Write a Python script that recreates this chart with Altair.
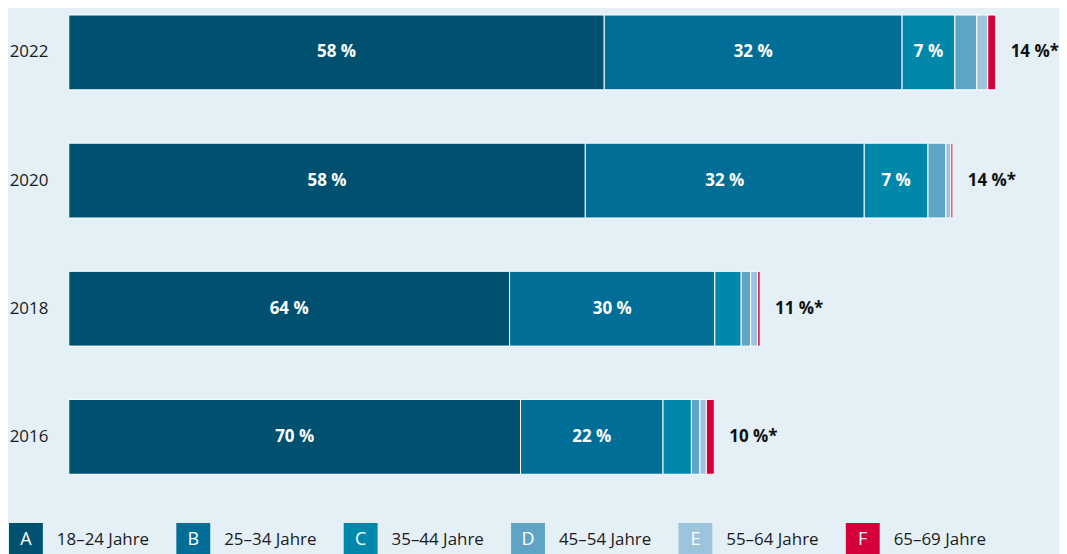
import altair as alt
import pandas as pd

# ---- data ----
years = ["2022", "2020", "2018", "2016"]
groups = ["A", "B", "C", "D", "E", "F"]
group_labels = ["18–24 Jahre", "25–34 Jahre", "35–44 Jahre", "45–54 Jahre", "55–64 Jahre", "65–69 Jahre"]
colors = ["#005170", "#006e97", "#0088aa", "#5ea4c5", "#9cc4dd", "#d3003b"]

# segment lengths (relative units, same scale for all years)
seg_2022 = [537.5, 299.0, 53.0, 22.0, 11.0, 8.0]
seg_2020 = [518.5, 280.0, 64.0, 18.0, 5.0, 2.0]
seg_2018 = [442.5, 206.0, 26.5, 9.5, 7.0, 2.5]
seg_2016 = [453.5, 143.0, 28.5, 8.5, 6.5, 8.0]

lab_2022 = ["58 %", "32 %", "7 %", "", "", ""]
lab_2020 = ["58 %", "32 %", "7 %", "", "", ""]
lab_2018 = ["64 %", "30 %", "", "", "", ""]
lab_2016 = ["70 %", "22 %", "", "", "", ""]

total_labels = ["14 %*", "14 %*", "11 %*", "10 %*"]

FONT = "Open Sans"

# ---- build tables ----
rows = []
totals = []
for yr, segs, labs, tl in zip(years,
                               [seg_2022, seg_2020, seg_2018, seg_2016],
                               [lab_2022, lab_2020, lab_2018, lab_2016],
                               total_labels):
    start = 0.0
    for g, v, lb in zip(groups, segs, labs):
        rows.append({"year": yr, "group": g, "start": start, "end": start + v,
                     "mid": start + v / 2, "label": lb})
        start += v
    totals.append({"year": yr, "total": start, "label": tl})

df = pd.DataFrame(rows)
df_tot = pd.DataFrame(totals)
df_leg = pd.DataFrame({"group": groups, "label": group_labels})

xscale = alt.Scale(domain=[0, 990], nice=False, zero=True)
yenc = alt.Y("year:N", sort=years,
             scale=alt.Scale(paddingInner=0.4163, paddingOuter=0.0467),
             axis=alt.Axis(title=None, domain=False, ticks=False, grid=False,
                           labelPadding=21, labelFontSize=17, labelFont=FONT,
                           labelColor="#1a1a1a", minExtent=61, maxExtent=61))

bars = alt.Chart(df).mark_rect(stroke="white", strokeWidth=1).encode(
    y=yenc,
    x=alt.X("start:Q", scale=xscale, axis=None),
    x2="end:Q",
    color=alt.Color("group:N", scale=alt.Scale(domain=groups, range=colors), legend=None),
)

inner = alt.Chart(df).mark_text(color="white", fontSize=17, fontWeight="bold",
                                font=FONT, baseline="middle").encode(
    y=alt.Y("year:N", sort=years),
    x=alt.X("mid:Q", scale=xscale),
    text="label:N",
)

tot = alt.Chart(df_tot).mark_text(color="#111111", fontSize=17, fontWeight="bold",
                                  font=FONT, align="left", dx=15, baseline="middle").encode(
    y=alt.Y("year:N", sort=years),
    x=alt.X("total:Q", scale=xscale),
    text="label:N",
)

top = alt.layer(bars, inner, tot).properties(width=990, height=473)

lx = alt.X("group:N", sort=groups,
           scale=alt.Scale(range=[-60, 814], paddingInner=0.7976, paddingOuter=0),
           axis=None)

leg_rect = alt.Chart(df_leg).mark_rect().encode(
    x=lx,
    color=alt.Color("group:N", scale=alt.Scale(domain=groups, range=colors), legend=None),
)
leg_letter = alt.Chart(df_leg).mark_text(color="white", fontSize=18, font=FONT,
                                         baseline="middle").encode(
    x=lx, text="group:N")
leg_text = alt.Chart(df_leg).mark_text(color="#1a1a1a", fontSize=17, font=FONT,
                                       align="left", dx=31, baseline="middle").encode(
    x=lx, text="label:N")

legend = alt.layer(leg_rect, leg_letter, leg_text).properties(width=874, height=34)

chart = alt.vconcat(top, legend, spacing=43).properties(
    background="#e4eff6", padding=0
).configure(font=FONT).configure_view(strokeWidth=0, stroke=None)

chart.save("out.html", embed_options={"renderer": "svg", "actions": False})
